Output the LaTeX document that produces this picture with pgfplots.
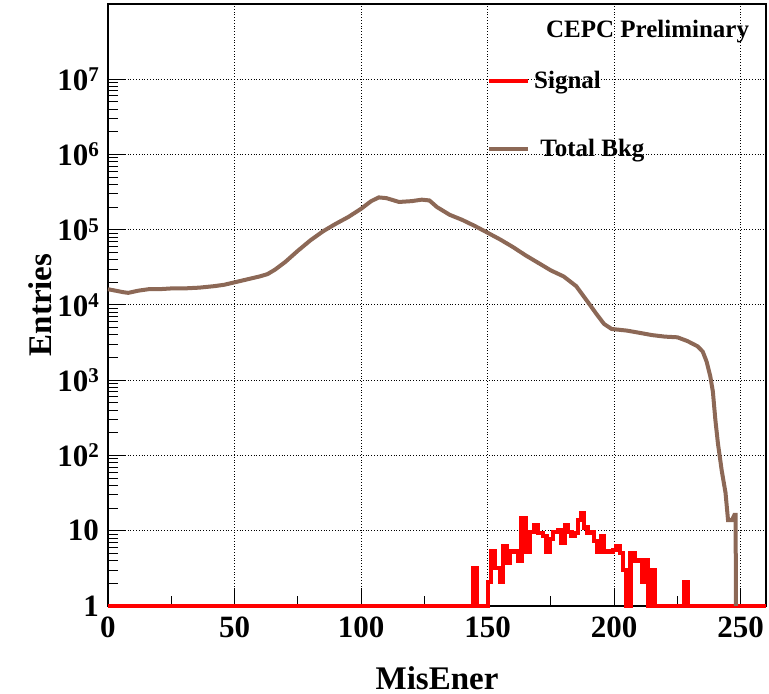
\documentclass[border=0pt]{standalone}
\usepackage{fontspec}
\setmainfont{Liberation Serif}
\usepackage{pgfplots}
\pgfplotsset{compat=1.18}
\definecolor{bkg}{RGB}{140,104,86}
\definecolor{sig}{RGB}{255,0,0}
\newcommand{\tp}[1]{10\raisebox{0.62ex}{\fontsize{10.5pt}{12pt}\selectfont #1}}
\begin{document}
\begin{tikzpicture}
\begin{axis}[
  name=ax,
  scale only axis,
  width=329pt, height=301pt,
  xmin=0, xmax=260,
  ymode=log, ymin=1, ymax=1e8,
  clip=false,
  xtick={0,50,100,150,200,250},
  minor x tick num=1,
  ytick={1,10,100,1000,10000,100000,1000000,10000000},
  yticklabels={1,10,\tp{2},\tp{3},\tp{4},\tp{5},\tp{6},\tp{7}},
  xtick pos=bottom, ytick pos=left,
  tick align=inside,
  major tick length=9pt, minor tick length=5pt,
  grid=major,
  major grid style={black, densely dotted, line width=0.5pt},
  axis line style={black, line width=0.6pt},
  tick style={black, line width=0.5pt},
  /pgf/number format/assume math mode=true,
  tick label style={font=\fontsize{15.5pt}{18pt}\selectfont\bfseries},
  xticklabel style={yshift=-2pt},
  yticklabel style={xshift=-1pt},
  xlabel={MisEner}, ylabel={Entries},
  label style={font=\fontsize{16.5pt}{19pt}\selectfont\bfseries},
  xlabel style={at={(axis description cs:0.5,-0.12)}, anchor=center},
  ylabel style={at={(axis description cs:-0.103,0.5)}, anchor=center, rotate=0},
  legend style={at={(axis description cs:0.567,0.903)}, anchor=north west, draw=none, fill=none,
    font=\fontsize{12.5pt}{14pt}\selectfont\bfseries, row sep=20pt,
    legend cell align=left},
  legend image code/.code={\draw[#1, line width=2pt] (0cm,0cm) -- (0.68cm,0cm);},
]
\addplot[sig, line width=2.2pt, const plot mark left] coordinates {
(0,1) (144.3,3.2) (145.6,1) (150.2,2.1) (151.3,5.3) (152.8,3.2) (154.8,2.1)
(156.1,6.2) (157.5,3.8) (158.8,5.3) (162.1,4.0) (163.4,14.7) (164.9,5.3)
(166.6,9.7) (168.6,12) (169.9,9.3) (171.9,8.5) (173.2,5.3) (174.6,7.7)
(175.9,9.7) (177.8,10.3) (179.2,7.0) (180.5,12) (181.8,9.7) (183.1,8.5)
(184.4,9.3) (185.7,13.9) (186.8,17) (188.1,11) (189.4,9.3) (190.7,9.7)
(192.0,7.3) (193.4,5.3) (194.7,8.5) (196.0,5.3) (199.5,5.5) (200.9,6.2)
(202.2,5.1) (203.5,3.0) (204.8,1) (206.5,5.1) (208.1,4) (211.0,2.1)
(212.0,4) (213.4,1) (214.7,3) (216.0,1) (227.8,2.1) (229.1,1) (260,1)
};
\addlegendentry{Signal}
\addplot[bkg, line width=2pt] coordinates {
(0,16200) (3,15500) (6,14800) (8,14500) (12,15500) (16,16200) (20,16200)
(25,16600) (30,16600) (36,17000) (42,17800) (46,18600) (50,20000) (55,21900)
(60,24000) (63,25700) (66,29500) (70,37200) (75,52500) (80,72400) (85,95500)
(90,120000) (95,148000) (100,190000) (104,240000) (107,269000) (110,263000)
(115,234000) (120,240000) (124,251000) (127,245000) (130,200000) (135,158000)
(140,135000) (145,112000) (150,91200) (155,74100) (160,58900) (165,45700)
(170,36300) (175,28800) (180,24000) (185,17800) (190,10500) (193,7600)
(196,5600) (199,4800) (205,4570) (210,4270) (215,3980) (220,3800) (225,3720)
(229,3310) (233,2820) (235,2400) (236.5,1780) (238,1120) (239,708) (240,295)
(241,145) (242.5,63) (244,32) (245,13.8) (246.5,13.8) (247.5,16.2) (248,16.2)
(248.1,1)
};
\addlegendentry{\ Total Bkg}
\node[anchor=east, font=\fontsize{12.5pt}{14pt}\selectfont\bfseries] at (axis description cs:0.985,0.955) {CEPC Preliminary};
\end{axis}
\pgfresetboundingbox
\path ([shift={(-54pt,-44pt)}]ax.south west) rectangle ([shift={(1.5pt,2pt)}]ax.north east);
\end{tikzpicture}
\end{document}
